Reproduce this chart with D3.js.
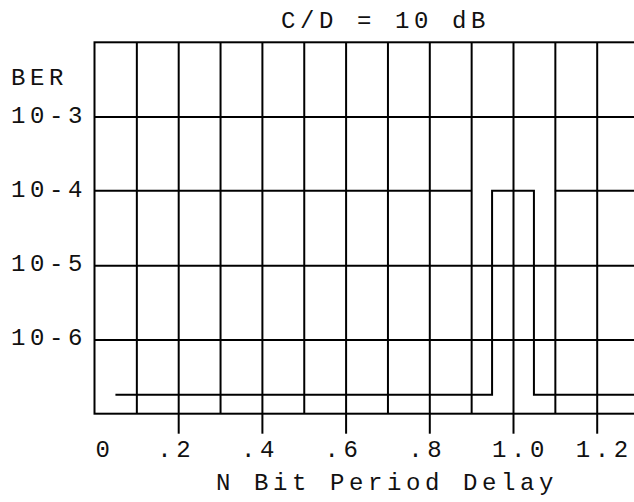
<!DOCTYPE html>
<html>
<head>
<meta charset="utf-8">
<script src="https://cdn.jsdelivr.net/npm/d3@7"></script>
<style>
  body { margin: 0; background: #fff; }
  svg { display: block; }
  text { font-family: 'Liberation Mono', monospace; font-size: 24px; fill: #111; letter-spacing: 4.6px; }
  .grid line, .ticks line { stroke: #000; stroke-width: 2; }
  .grid path, .ticks path { display: none; }
</style>
</head>
<body>
<div class="chart"></div>
<script>
// N bit period delay (x) and BER (y, log scale)
const gridX = [0.1, 0.2, 0.3, 0.4, 0.5, 0.6, 0.7, 0.8, 0.9, 1.0, 1.1, 1.2];
const tickX = [0.2, 0.4, 0.6, 0.8, 1.0, 1.2];
const xLabels = ['0', '.2', '.4', '.6', '.8', '1.0', '1.2'];
const xLabelAt = [0, 0.2, 0.4, 0.6, 0.8, 1.0, 1.2];
const gridY = [1e-3, 1e-5, 1e-6];
const yLabels = ['10-3', '10-4', '10-5', '10-6'];
const yLabelAt = [1e-3, 1e-4, 1e-5, 1e-6];

// level at 10-4, broken around the 1 bit delay
const upperLeftX = [0, 0.9];
const upperLeftY = [1e-4, 1e-4];
const upperRightX = [1.1, 1.3];
const upperRightY = [1e-4, 1e-4];

// pulse trace
const pulseX = [0.05, 0.95, 0.95, 1.05, 1.05, 1.3];
const pulseY = [1.8e-7, 1.8e-7, 1e-4, 1e-4, 1.8e-7, 1.8e-7];

const W = 634, H = 502;
const x0 = 94.5, unit = 418.5; // px per 1.0 of delay
const yTop = 42.3, yBot = 413.7;

const svg = d3.select('.chart').append('svg')
  .attr('width', W)
  .attr('height', H);

const x = d3.scaleLinear().domain([0, 1.3]).range([x0, x0 + 1.3 * unit]);
const y = d3.scaleLog().domain([1e-7, 1e-2]).range([yBot, yTop]);

// vertical grid
svg.append('g')
  .attr('class', 'grid')
  .attr('transform', `translate(0, ${yBot})`)
  .call(d3.axisBottom(x).tickValues(gridX).tickSize(-(yBot - yTop)).tickFormat(''));

// horizontal grid
svg.append('g')
  .attr('class', 'grid')
  .attr('transform', `translate(${x0}, 0)`)
  .call(d3.axisRight(y).tickValues(gridY).tickSize(x(1.3) - x0).tickFormat(''));

// tick marks under the frame
svg.append('g')
  .attr('class', 'ticks')
  .attr('transform', `translate(0, ${yBot})`)
  .call(d3.axisBottom(x).tickValues(tickX).tickSize(20).tickFormat(''));

// frame
svg.append('rect')
  .attr('x', x(0))
  .attr('y', y(1e-2))
  .attr('width', x(1.3) - x(0))
  .attr('height', y(1e-7) - y(1e-2))
  .attr('fill', 'none')
  .attr('stroke', '#000')
  .attr('stroke-width', 2);

const line = d3.line()
  .x((d) => x(d[0]))
  .y((d) => y(d[1]));

const traces = [
  d3.zip(upperLeftX, upperLeftY),
  d3.zip(upperRightX, upperRightY),
  d3.zip(pulseX, pulseY),
];

svg.selectAll('path.trace')
  .data(traces)
  .enter()
  .append('path')
  .attr('class', 'trace')
  .attr('d', line)
  .attr('fill', 'none')
  .attr('stroke', '#000')
  .attr('stroke-width', 2);

// x labels
svg.selectAll('text.xl')
  .data(xLabels)
  .enter()
  .append('text')
  .attr('class', 'xl')
  .attr('x', (d, i) => (i === 0 ? x(xLabelAt[i]) + 1 : x(xLabelAt[i]) - 21))
  .attr('y', 457)
  .text((d) => d);

// y labels
svg.selectAll('text.yl')
  .data(yLabels)
  .enter()
  .append('text')
  .attr('class', 'yl')
  .attr('x', 11)
  .attr('y', (d, i) => y(yLabelAt[i]) + 6)
  .text((d) => d);

svg.append('text').attr('x', 11).attr('y', 85).text('BER');
svg.append('text').attr('x', 281).attr('y', 28).text('C/D = 10 dB');
svg.append('text').attr('x', 216).attr('y', 490).text('N Bit Period Delay');
</script>
</body>
</html>
